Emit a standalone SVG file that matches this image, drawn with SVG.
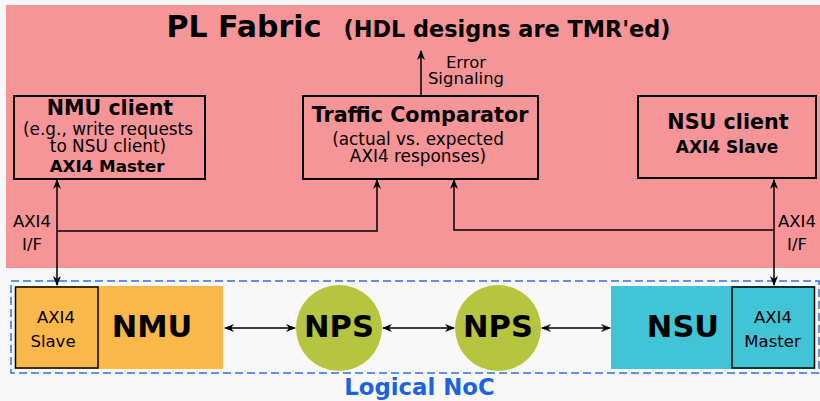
<svg xmlns="http://www.w3.org/2000/svg" width="820" height="401" viewBox="0 0 820 401">
<defs>
<style>
text{font-family:"DejaVu Sans","Liberation Sans",sans-serif;fill:#000;text-anchor:middle}
.b{font-weight:bold}
.box{fill:none;stroke:#000;stroke-width:2}
.ln{fill:none;stroke:#000;stroke-width:1.5}
.s{font-size:16.5px}
.big{font-size:30.5px;font-weight:bold}
</style>
<marker id="ah" viewBox="0 0 10 8" refX="9" refY="4" markerWidth="10" markerHeight="8" markerUnits="userSpaceOnUse" orient="auto-start-reverse">
<path d="M0,0 L10,4 L0,8 L3,4 z" fill="#000"/>
</marker>
</defs>
<rect x="0" y="0" width="820" height="401" fill="#f8f8f8"/>
<rect x="6" y="5" width="814" height="263" fill="#f69597"/>
<g id="title">
<text x="244" y="37" class="b" font-size="30">PL Fabric</text>
<text x="507" y="37" class="b" font-size="22.4">(HDL designs are TMR'ed)</text>
</g>
<g id="nmu-client">
<rect x="14" y="96" width="191" height="83" class="box"/>
<text x="110" y="115" class="b" font-size="20.6">NMU client</text>
<text x="108" y="135" font-size="16.9">(e.g., write requests</text>
<text x="108" y="152" font-size="16.9">to NSU client)</text>
<text x="107" y="172" class="b" font-size="16.7">AXI4 Master</text>
</g>
<g id="traffic-comparator">
<rect x="303" y="96" width="235" height="83" class="box"/>
<text x="420" y="122" class="b" font-size="20.7">Traffic Comparator</text>
<text x="418" y="145" font-size="16.9">(actual vs. expected</text>
<text x="418" y="162" font-size="16.9">AXI4 responses)</text>
</g>
<g id="nsu-client">
<rect x="638" y="96" width="178" height="82" class="box"/>
<text x="728" y="129" class="b" font-size="20.7">NSU client</text>
<text x="727" y="153" class="b" font-size="17">AXI4 Slave</text>
</g>
<g id="nmu">
<rect x="15" y="286" width="208" height="83" fill="#fbb84a"/>
<rect x="15.5" y="287" width="82.5" height="81" fill="none" stroke="#000" stroke-width="1.5"/>
<text x="56" y="323" class="s">AXI4</text>
<text x="53" y="347" class="s">Slave</text>
<text x="152" y="337" class="big">NMU</text>
</g>
<g id="nps1">
<circle cx="339" cy="328" r="43" fill="#b6c540"/>
<text x="339" y="337" class="big">NPS</text>
</g>
<g id="nps2">
<circle cx="498" cy="328" r="43" fill="#b6c540"/>
<text x="498" y="337" class="big">NPS</text>
</g>
<g id="nsu">
<rect x="611" y="286" width="204" height="83" fill="#42c4d7"/>
<rect x="732" y="287" width="82.5" height="81" fill="none" stroke="#000" stroke-width="1.5"/>
<text x="773" y="323" class="s">AXI4</text>
<text x="772.5" y="347" class="s">Master</text>
<text x="683" y="337" class="big">NSU</text>
</g>
<g id="logical-noc">
<rect x="11" y="281" width="808" height="92" fill="none" stroke="#2f6fdc" stroke-width="1.5" stroke-dasharray="8,4"/>
<text x="419.5" y="395" class="b" font-size="22.8" style="fill:#1d62e0">Logical NoC</text>
</g>
<g id="labels">
<text x="466" y="68" font-size="16.5">Error</text>
<text x="466" y="84" font-size="16.5">Signaling</text>
<text x="32" y="227" class="s">AXI4</text>
<text x="32" y="250" class="s">I/F</text>
<text x="797" y="227" class="s">AXI4</text>
<text x="797" y="250" class="s">I/F</text>
</g>
<g id="connectors">
<path d="M421,96 V51" class="ln" marker-end="url(#ah)"/>
<path d="M57,180 V285" class="ln" marker-start="url(#ah)" marker-end="url(#ah)"/>
<path d="M57,231 H377 V180" class="ln" marker-end="url(#ah)"/>
<path d="M774,180 V285" class="ln" marker-start="url(#ah)" marker-end="url(#ah)"/>
<path d="M774,230 H454 V180" class="ln" marker-end="url(#ah)"/>
<path d="M225,328 H295" class="ln" marker-start="url(#ah)" marker-end="url(#ah)"/>
<path d="M383,328 H454" class="ln" marker-start="url(#ah)" marker-end="url(#ah)"/>
<path d="M542,328 H610" class="ln" marker-start="url(#ah)" marker-end="url(#ah)"/>
</g>
</svg>
